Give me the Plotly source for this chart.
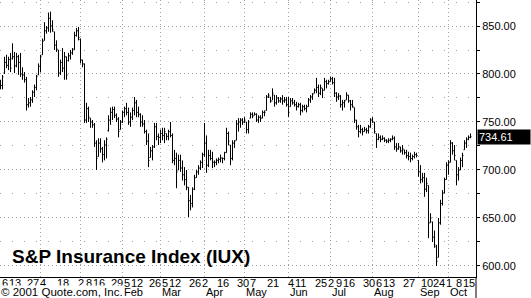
import plotly.graph_objects as go
import pandas as pd

# ---- data -------------------------------------------------------------
holidays = ["2000-11-23", "2000-12-25", "2001-01-01", "2001-01-15", "2001-02-19",
            "2001-04-13", "2001-05-28", "2001-07-04", "2001-09-03",
            "2001-09-11", "2001-09-12", "2001-09-13", "2001-09-14"]
dates = [d for d in pd.bdate_range("2000-11-02", "2001-10-16")
         if d.strftime("%Y-%m-%d") not in holidays]

high = [794, 799, 818, 820, 818, 822, 832, 823, 822, 820, 822, 807, 802, 797, 775, 776, 783, 789, 799, 811,
        820, 837, 854, 850, 864, 865, 856, 844, 835, 825, 815, 827, 823, 818, 822, 825, 827, 844, 848, 849,
        837, 815, 811, 770, 766, 754, 752, 749, 731, 733, 733, 724, 731, 734, 757, 765, 766, 766, 759, 755,
        752, 762, 766, 770, 765, 760, 765, 776, 773, 766, 759, 757, 752, 742, 738, 724, 726, 749, 749, 738,
        742, 744, 744, 738, 742, 750, 738, 721, 718, 716, 716, 710, 703, 700, 682, 674, 682, 695, 700, 705,
        710, 718, 749, 736, 721, 721, 719, 710, 712, 713, 716, 713, 719, 744, 740, 726, 731, 731, 752, 754,
        754, 754, 755, 750, 752, 760, 760, 760, 759, 757, 757, 762, 762, 778, 780, 776, 785, 778, 778, 776,
        776, 778, 776, 776, 776, 775, 775, 773, 771, 770, 770, 768, 768, 768, 775, 778, 780, 785, 796, 789,
        789, 785, 796, 794, 794, 797, 797, 796, 781, 780, 778, 773, 773, 781, 778, 773, 773, 765, 752, 747,
        747, 744, 745, 744, 747, 754, 755, 750, 738, 738, 736, 736, 734, 732, 733, 733, 736, 735, 728, 728,
        724, 726, 721, 721, 719, 718, 716, 719, 718, 710, 705, 697, 697, 692, 684, 655, 646, 637, 622, 650,
        669, 679, 692, 708, 710, 731, 729, 726, 710, 703, 713, 718, 731, 734, 736, 738]
low = [784, 784, 800, 806, 804, 802, 815, 801, 807, 799, 797, 794, 791, 762, 765, 766, 770, 776, 783, 799,
       802, 820, 835, 842, 844, 843, 844, 825, 823, 797, 799, 802, 794, 794, 813, 815, 820, 825, 839, 835,
       811, 807, 749, 749, 750, 744, 744, 724, 700, 714, 718, 708, 710, 712, 740, 747, 752, 754, 750, 734,
       742, 749, 755, 757, 747, 745, 752, 757, 755, 755, 745, 745, 738, 726, 703, 713, 710, 723, 731, 726,
       728, 731, 728, 731, 731, 734, 707, 705, 681, 700, 698, 689, 684, 679, 651, 658, 661, 679, 692, 695,
       700, 702, 714, 697, 703, 710, 702, 703, 705, 707, 708, 707, 710, 718, 726, 705, 710, 723, 731, 740,
       744, 747, 749, 738, 738, 754, 754, 757, 750, 749, 750, 754, 756, 762, 775, 770, 773, 766, 768, 770,
       770, 768, 770, 766, 755, 766, 768, 766, 762, 765, 757, 760, 762, 760, 766, 770, 773, 780, 780, 776,
       778, 775, 783, 785, 789, 792, 789, 776, 771, 773, 765, 762, 765, 773, 770, 762, 765, 749, 742, 734,
       738, 736, 740, 738, 738, 744, 749, 738, 723, 731, 729, 731, 729, 728, 728, 729, 731, 721, 719, 721,
       718, 716, 716, 712, 710, 708, 710, 712, 713, 693, 686, 687, 672, 677, 629, 645, 625, 619, 600, 609,
       643, 663, 676, 690, 695, 708, 716, 710, 684, 689, 700, 703, 721, 723, 731, 733]
close = [788, 797, 812, 809, 815, 806, 818, 808, 818, 812, 800, 799, 794, 768, 770, 773, 781, 786, 797, 808,
         818, 834, 845, 848, 858, 850, 846, 830, 826, 801, 812, 806, 818, 799, 819, 822, 825, 840, 845, 838,
         815, 811, 752, 764, 755, 750, 747, 728, 712, 728, 722, 716, 726, 732, 752, 760, 763, 757, 753, 740,
         750, 760, 764, 760, 750, 755, 762, 770, 760, 758, 750, 748, 740, 730, 710, 720, 724, 745, 735, 734,
         738, 736, 740, 735, 740, 736, 710, 712, 698, 710, 702, 695, 690, 682, 668, 665, 680, 692, 698, 702,
         708, 716, 728, 705, 715, 712, 708, 708, 710, 711, 713, 712, 718, 738, 730, 712, 728, 730, 748, 750,
         752, 750, 752, 742, 750, 758, 756, 758, 752, 755, 754, 760, 760, 776, 778, 772, 780, 770, 775, 772,
         774, 772, 773, 768, 760, 772, 770, 768, 766, 768, 762, 766, 764, 766, 773, 776, 779, 783, 786, 780,
         786, 783, 792, 790, 792, 795, 791, 780, 776, 777, 768, 770, 772, 778, 772, 768, 766, 752, 745, 740,
         742, 740, 742, 741, 745, 752, 750, 740, 732, 734, 732, 733, 731, 730, 731, 732, 733, 724, 722, 724,
         720, 722, 718, 715, 714, 712, 714, 716, 715, 698, 690, 692, 680, 686, 645, 650, 630, 622, 605, 645,
         665, 676, 690, 705, 708, 728, 720, 715, 695, 700, 710, 715, 728, 732, 734, 734.61]
open_ = [790, 788, 801, 812, 809, 815, 816, 818, 809, 818, 812, 800, 799, 794, 768, 770, 773, 781, 786, 799,
         808, 820, 835, 845, 848, 858, 850, 844, 830, 825, 801, 812, 806, 818, 814, 819, 822, 826, 840, 845,
         836, 814, 810, 752, 764, 754, 750, 747, 728, 714, 728, 722, 716, 726, 741, 752, 760, 763, 757, 753,
         742, 750, 760, 764, 760, 750, 755, 762, 770, 760, 758, 750, 748, 740, 730, 713, 720, 724, 745, 735,
         734, 738, 736, 738, 735, 740, 736, 710, 712, 700, 710, 702, 695, 690, 682, 668, 665, 680, 692, 698,
         702, 708, 716, 728, 705, 715, 712, 708, 708, 710, 711, 712, 712, 718, 738, 726, 712, 728, 731, 748,
         750, 752, 750, 750, 742, 754, 758, 757, 758, 752, 755, 754, 760, 762, 776, 776, 772, 778, 770, 775,
         772, 774, 772, 773, 768, 766, 772, 770, 768, 766, 768, 762, 766, 764, 766, 773, 776, 780, 783, 786,
         780, 785, 783, 792, 790, 792, 795, 791, 780, 776, 777, 768, 770, 773, 778, 772, 768, 765, 752, 745,
         740, 742, 740, 742, 741, 745, 752, 750, 738, 732, 734, 732, 733, 731, 730, 731, 732, 733, 724, 722,
         724, 720, 721, 718, 715, 714, 712, 714, 716, 710, 698, 690, 692, 680, 684, 645, 646, 630, 620, 609,
         645, 665, 676, 690, 705, 708, 728, 720, 710, 695, 700, 710, 721, 728, 732, 734]

label_days = ["2000-11-06", "2000-11-13", "2000-11-27", "2000-12-04", "2000-12-18", "2001-01-02",
              "2001-01-08", "2001-01-16", "2001-01-29", "2001-02-05", "2001-02-12", "2001-02-26",
              "2001-03-05", "2001-03-12", "2001-03-26", "2001-04-02", "2001-04-16", "2001-04-30",
              "2001-05-07", "2001-05-21", "2001-06-04", "2001-06-11", "2001-06-25", "2001-07-02",
              "2001-07-09", "2001-07-16", "2001-07-30", "2001-08-06", "2001-08-13", "2001-08-27",
              "2001-09-10", "2001-09-24", "2001-10-01", "2001-10-08", "2001-10-15"]
month_labels = ["Feb", "Mar", "Apr", "May", "Jun", "Jul", "Aug", "Sep", "Oct"]
title_text = "S&amp;P Insurance Index (IUX)"
copyright_text = "© 2001 Quote.com, Inc."

# ---- derived positions --------------------------------------------------
idx = list(range(len(dates)))
date_str = [d.strftime("%Y-%m-%d") for d in dates]
tick_idx = [date_str.index(d) for d in label_days]
tick_txt = [str(int(d[-2:])) for d in label_days]
month_start = {}
for i, d in enumerate(dates):
    key = d.strftime("%b")
    if key not in month_start:
        month_start[key] = i

FONT = "Liberation Sans, Arial, sans-serif"
GRID = "#a0a0a0"
PLOT_H = 277

fig = go.Figure(go.Ohlc(
    x=idx, open=open_, high=high, low=low, close=close,
    increasing=dict(line=dict(color="black", width=1)),
    decreasing=dict(line=dict(color="black", width=1)),
    tickwidth=0.5, hoverinfo="skip"))

shapes = []
for m, i in month_start.items():
    if i == 0:
        continue
    shapes.append(dict(type="line", xref="x", yref="paper", x0=i, x1=i, y0=0, y1=1,
                       line=dict(color=GRID, width=1, dash="1px,3px"), layer="below"))
# right axis line continues to the bottom edge
shapes.append(dict(type="line", xref="paper", yref="paper", x0=1, x1=1, y0=-21 / PLOT_H, y1=0,
                   line=dict(color="black", width=1)))

annotations = [
    dict(text="<b>" + title_text + "</b>", xref="paper", yref="paper", x=10 / 476, y=(PLOT_H - 256) / PLOT_H,
         xanchor="left", yanchor="middle", showarrow=False, font=dict(family=FONT, size=19, color="black")),
    dict(text="%.2f" % close[-1], xref="paper", yref="y", x=1, y=close[-1], xanchor="left",
         yanchor="middle", showarrow=False, bgcolor="black", width=50, align="left", borderpad=1,
         xshift=1, font=dict(family=FONT, size=11, color="white")),
]
# day-of-month labels (first row under the axis)
for i, t in zip(tick_idx, tick_txt):
    annotations.append(dict(text=t, xref="x", yref="paper", x=i, y=-6 / PLOT_H, xanchor="center",
                            yanchor="middle", showarrow=False, borderpad=0,
                            font=dict(family=FONT, size=11, color="black")))
# month labels (second row)
for m in month_labels:
    annotations.append(dict(text=m, xref="x", yref="paper", x=month_start[m], y=-15 / PLOT_H,
                            xanchor="left", yanchor="middle", showarrow=False, borderpad=0,
                            font=dict(family=FONT, size=11, color="black")))
annotations.append(dict(text=copyright_text, xref="paper", yref="paper", x=0, y=-15 / PLOT_H,
                        xanchor="left", yanchor="middle", showarrow=False, bgcolor="white", borderpad=0,
                        font=dict(family=FONT, size=11.5, color="black")))

fig.update_layout(
    width=531, height=298,
    margin=dict(l=0, r=55, t=0, b=21),
    paper_bgcolor="white", plot_bgcolor="white",
    showlegend=False,
    shapes=shapes, annotations=annotations,
    xaxis=dict(range=[-0.25, 237.75], showticklabels=False, ticks="", showgrid=False, zeroline=False,
               showline=True, linecolor="black", linewidth=1,
               rangeslider=dict(visible=False)),
    yaxis=dict(range=[588.53, 877.08], side="right", dtick=50, tick0=600, tickformat=".2f",
               showgrid=True, gridcolor=GRID, griddash="1px,3px", gridwidth=1,
               ticks="outside", ticklen=3, tickcolor="black", zeroline=False,
               showline=True, linecolor="black", linewidth=1,
               minor=dict(dtick=25, tick0=600, showgrid=True, gridcolor=GRID, griddash="1px,11px",
                          ticks="outside", ticklen=3, tickcolor="black"),
               tickfont=dict(family=FONT, size=11, color="black")),
)

fig.write_html("out.html")
